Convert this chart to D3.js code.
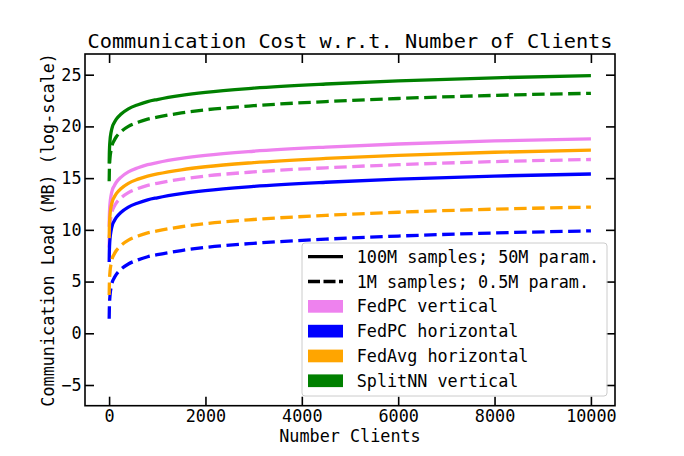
<!DOCTYPE html>
<html>
<head>
<meta charset="utf-8">
<script src="https://cdn.jsdelivr.net/npm/d3@7"></script>
<style>
  body { margin: 0; background: #fff; }
  svg { display: block; font-family: "DejaVu Sans Mono", monospace; }
</style>
</head>
<body>
<div id="chart"></div>
<script>
const clients = [2, 5, 10, 20, 40, 70, 100, 150, 250, 400, 600, 800, 1000, 1500, 2000, 3000, 4500, 6000, 8000, 10000]

// communication load (MB, log-scale) per method, big setting (solid) and small setting (dashed)
const fedpcVerticalBig     = [10.3, 11.2, 11.9, 12.6, 13.3, 13.9, 14.2, 14.6, 15.1, 15.6, 16.0, 16.3, 16.5, 16.9, 17.2, 17.6, 18.0, 18.3, 18.6, 18.8]
const fedpcVerticalSmall   = [8.3, 9.2, 9.9, 10.6, 11.3, 11.9, 12.2, 12.6, 13.1, 13.6, 14.0, 14.3, 14.5, 14.9, 15.2, 15.6, 16.0, 16.3, 16.6, 16.8]
const fedpcHorizBig        = [6.9, 7.8, 8.5, 9.2, 9.9, 10.5, 10.8, 11.2, 11.7, 12.2, 12.6, 12.9, 13.1, 13.5, 13.8, 14.2, 14.6, 14.9, 15.2, 15.4]
const fedpcHorizSmall      = [1.4, 2.3, 3.0, 3.7, 4.4, 5.0, 5.3, 5.7, 6.2, 6.7, 7.1, 7.4, 7.6, 8.0, 8.3, 8.7, 9.1, 9.4, 9.7, 9.9]
const fedavgHorizBig       = [9.2, 10.1, 10.8, 11.5, 12.2, 12.8, 13.1, 13.5, 14.0, 14.5, 14.9, 15.2, 15.4, 15.8, 16.1, 16.5, 16.9, 17.2, 17.5, 17.7]
const fedavgHorizSmall     = [3.7, 4.6, 5.3, 6.0, 6.7, 7.3, 7.6, 8.0, 8.5, 9.0, 9.4, 9.7, 9.9, 10.3, 10.6, 11.0, 11.4, 11.7, 12.0, 12.2]
const splitnnVerticalBig   = [16.4, 17.3, 18.0, 18.7, 19.4, 20.0, 20.3, 20.7, 21.2, 21.7, 22.1, 22.4, 22.6, 23.0, 23.3, 23.7, 24.1, 24.4, 24.7, 24.9]
const splitnnVerticalSmall = [14.7, 15.6, 16.3, 17.0, 17.7, 18.3, 18.6, 19.0, 19.5, 20.0, 20.4, 20.7, 20.9, 21.3, 21.6, 22.0, 22.4, 22.7, 23.0, 23.2]

const methods = ["FedPC vertical", "FedPC horizontal", "FedAvg horizontal", "SplitNN vertical"]
const settings = ["100M samples; 50M param.", "1M samples; 0.5M param."]
const xTicks = [0, 2000, 4000, 6000, 8000, 10000]
const yTicks = [-5, 0, 5, 10, 15, 20, 25]

const series = [
    { method: methods[0], big: fedpcVerticalBig, small: fedpcVerticalSmall },
    { method: methods[1], big: fedpcHorizBig, small: fedpcHorizSmall },
    { method: methods[2], big: fedavgHorizBig, small: fedavgHorizSmall },
    { method: methods[3], big: splitnnVerticalBig, small: splitnnVerticalSmall }
]

const color = d3.scaleOrdinal().domain(methods).range(["violet", "blue", "orange", "green"])

const width = 684, height = 456
const margin = { left: 85, right: 69, top: 54, bottom: 50.3 }
const dash = "12.5,5.5"
const fs = "16.8px"

const svg = d3.select("#chart").append("svg")
    .attr("width", width)
    .attr("height", height)

const x = d3.scaleLinear().domain([-500, 10500]).range([margin.left, width - margin.right])
const y = d3.scaleLinear().domain([-7, 27]).range([height - margin.bottom, margin.top])

const line = d3.line()
    .x((d, i) => x(clients[i]))
    .y(d => y(d))
    .curve(d3.curveMonotoneX)

const g = svg.append("g")
series.forEach(s => {
    g.append("path")
        .attr("d", line(s.big))
        .attr("fill", "none")
        .attr("stroke", color(s.method))
        .attr("stroke-width", 3.3)
    g.append("path")
        .attr("d", line(s.small))
        .attr("fill", "none")
        .attr("stroke", color(s.method))
        .attr("stroke-width", 3.3)
        .attr("stroke-dasharray", dash)
})

// axes, ticks pointing inward on all four sides
const tickLen = 9
const styleAxis = sel => {
    sel.select(".domain").remove()
    sel.selectAll(".tick line").attr("stroke", "#000").attr("stroke-width", 1.6)
    sel.selectAll(".tick text").attr("fill", "#000").style("font-size", fs)
        .style("font-family", "DejaVu Sans Mono")
}

svg.append("g")
    .attr("transform", `translate(0,${y.range()[0]})`)
    .call(d3.axisBottom(x).tickValues(xTicks).tickSize(-tickLen).tickPadding(4.5).tickFormat(d3.format("d")))
    .call(styleAxis)

svg.append("g")
    .attr("transform", `translate(0,${y.range()[1]})`)
    .call(d3.axisTop(x).tickValues(xTicks).tickSize(-tickLen).tickFormat(""))
    .call(styleAxis)

svg.append("g")
    .attr("transform", `translate(${x.range()[0]},0)`)
    .call(d3.axisLeft(y).tickValues(yTicks).tickSize(-tickLen).tickPadding(3.5))
    .call(styleAxis)

svg.append("g")
    .attr("transform", `translate(${x.range()[1]},0)`)
    .call(d3.axisRight(y).tickValues(yTicks).tickSize(-tickLen).tickFormat(""))
    .call(styleAxis)

svg.append("rect")
    .attr("x", x.range()[0])
    .attr("y", y.range()[1])
    .attr("width", x.range()[1] - x.range()[0])
    .attr("height", y.range()[0] - y.range()[1])
    .attr("fill", "none")
    .attr("stroke", "#000")
    .attr("stroke-width", 1.6)

// title and axis labels
svg.append("text")
    .attr("x", (x.range()[0] + x.range()[1]) / 2)
    .attr("y", 48)
    .attr("text-anchor", "middle")
    .style("font-size", "20.3px")
    .text("Communication Cost w.r.t. Number of Clients")

svg.append("text")
    .attr("x", (x.range()[0] + x.range()[1]) / 2)
    .attr("y", 441.5)
    .attr("text-anchor", "middle")
    .style("font-size", fs)
    .text("Number Clients")

svg.append("text")
    .attr("transform", `translate(54,${(y.range()[0] + y.range()[1]) / 2}) rotate(-90)`)
    .attr("text-anchor", "middle")
    .style("font-size", fs)
    .text("Communication Load (MB) (log-scale)")

// legend
const legend = svg.append("g").attr("transform", "translate(302,243)")
legend.append("rect")
    .attr("width", 305)
    .attr("height", 153)
    .attr("rx", 3)
    .attr("fill", "#fff")
    .attr("fill-opacity", 0.8)
    .attr("stroke", "#ccc")
    .attr("stroke-width", 1)

const rowH = 24.8
const entries = [
    ...settings.map((s, i) => ({ label: s, kind: "line", dashed: i === 1 })),
    ...methods.map(m => ({ label: m, kind: "patch", color: color(m) }))
]

const rows = legend.selectAll("g.row")
    .data(entries)
    .enter().append("g")
    .attr("class", "row")
    .attr("transform", (d, i) => `translate(0,${13.7 + i * rowH})`)

rows.filter(d => d.kind === "line")
    .append("line")
    .attr("x1", 6).attr("x2", 41)
    .attr("stroke", "#000")
    .attr("stroke-width", 3.3)
    .attr("stroke-dasharray", d => d.dashed ? "12,3.5" : null)

rows.filter(d => d.kind === "patch")
    .append("rect")
    .attr("x", 6).attr("y", -6.3)
    .attr("width", 35).attr("height", 12.7)
    .attr("fill", d => d.color)

rows.append("text")
    .attr("x", 54.7)
    .attr("dy", "0.36em")
    .style("font-size", fs)
    .text(d => d.label)
</script>
</body>
</html>
